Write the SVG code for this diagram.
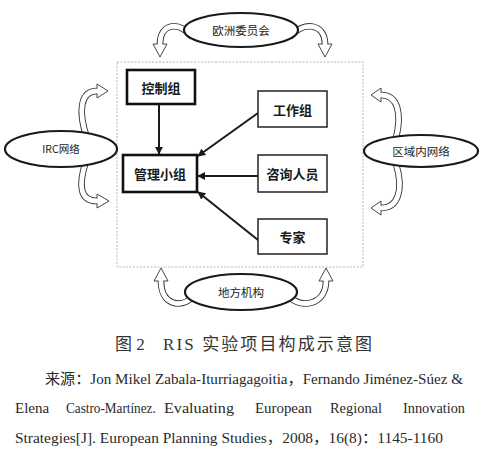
<svg xmlns="http://www.w3.org/2000/svg" width="483" height="471" viewBox="0 0 483 471">
<defs>
<style>
.bg{fill:#fff}
.frame{fill:none;stroke:#b5b5b5;stroke-width:1;stroke-dasharray:2 1.5}
.ell{fill:#fff;stroke:#1a1a1a;stroke-width:2.2}
.box{fill:#fff;stroke:#222;stroke-width:1.5}
.boxb{fill:#fff;stroke:#111;stroke-width:2.6}
.lbl{font-family:"Noto Sans CJK SC","Noto Sans",sans-serif;font-size:11.5px;fill:#222;text-anchor:middle;dominant-baseline:central}
.blbl{font-family:"Noto Sans CJK SC","Noto Sans",sans-serif;font-size:13px;font-weight:bold;fill:#1a1a1a;text-anchor:middle;dominant-baseline:central}
.con{fill:none;stroke:#1a1a1a;stroke-width:2}
.bo{fill:none;stroke:#333;stroke-width:6.6}
.bi{fill:none;stroke:#fff;stroke-width:4.8}
.hd{fill:#fff;stroke:#333;stroke-width:0.9;stroke-linejoin:miter}
.cap{font-family:"Liberation Serif","Noto Sans CJK SC",serif;font-size:17px;fill:#333}
.src{font-family:"Liberation Serif","Noto Sans CJK SC",serif;font-size:15px;fill:#2a2a2a}
</style>
<marker id="ah" viewBox="0 0 10 10" refX="9" refY="5" markerWidth="4" markerHeight="4" orient="auto" markerUnits="strokeWidth">
<path d="M0,0 L10,5 L0,10 z" fill="#1a1a1a"/>
</marker>
</defs>
<rect class="bg" x="0" y="0" width="483" height="471"/>
<rect class="frame" x="117" y="62" width="246" height="205"/>

<g id="curved-arrows">
<path class="bo" d="M192,37 C178,20 160,24 160,44"/><path class="bi" d="M192,37 C178,20 160,24 160,44"/>
<path class="hd" d="M157.6,44 L153,44 L160,57 L167,44 L162.4,44"/>
<path class="bo" d="M290,37 C304,20 325,24 325,44"/><path class="bi" d="M290,37 C304,20 325,24 325,44"/>
<path class="hd" d="M322.6,44 L318,44 L325,57 L332,44 L327.4,44"/>
<path class="bo" d="M194,296 C180,310 161,304 161,281"/><path class="bi" d="M194,296 C180,310 161,304 161,281"/>
<path class="hd" d="M158.6,281 L154,281 L161,268 L168,281 L163.4,281"/>
<path class="bo" d="M288,296 C302,310 326,304 326,281"/><path class="bi" d="M288,296 C302,310 326,304 326,281"/>
<path class="hd" d="M323.6,281 L319,281 L326,268 L333,281 L328.4,281"/>
<path class="bo" d="M87,138 C78,112 80,91 97,91"/><path class="bi" d="M87,138 C78,112 80,91 97,91"/>
<path class="hd" d="M97,88.6 L97,84 L108,91 L97,98 L97,93.4"/>
<path class="bo" d="M86,161 C78,186 80,201 97,201"/><path class="bi" d="M86,161 C78,186 80,201 97,201"/>
<path class="hd" d="M97,198.6 L97,194 L109,201 L97,208 L97,203.4"/>
<path class="bo" d="M396,138 C402,114 398,95 381,95"/><path class="bi" d="M396,138 C402,114 398,95 381,95"/>
<path class="hd" d="M381,92.6 L381,88 L371,95 L381,102 L381,97.4"/>
<path class="bo" d="M396,164 C404,190 398,208 381,208"/><path class="bi" d="M396,164 C404,190 398,208 381,208"/>
<path class="hd" d="M381,205.6 L381,201 L371,208 L381,215 L381,210.4"/>
</g>

<g id="connectors">
<path class="con" d="M159,104 L159,154" marker-end="url(#ah)"/>
<path class="con" d="M258,113 L198,156" marker-end="url(#ah)"/>
<path class="con" d="M258,176 L198,176" marker-end="url(#ah)"/>
<path class="con" d="M258,240 L198,192" marker-end="url(#ah)"/>
</g>

<g id="ouzhou"><ellipse class="ell" cx="241" cy="30" rx="57" ry="17"/><text class="lbl" x="241" y="30">欧洲委员会</text></g>
<g id="irc"><ellipse class="ell" cx="61" cy="149" rx="56" ry="18"/><text class="lbl" x="61" y="148" style="font-size:10.5px">IRC网络</text></g>
<g id="quyu"><ellipse class="ell" cx="421" cy="151" rx="57" ry="16"/><text class="lbl" x="421" y="151">区域内网络</text></g>
<g id="difang"><ellipse class="ell" cx="241" cy="292" rx="56" ry="18"/><text class="lbl" x="241" y="292">地方机构</text></g>

<g id="kongzhi"><rect class="boxb" x="127" y="70" width="68" height="34"/><text class="blbl" x="161" y="87">控制组</text></g>
<g id="gongzuo"><rect class="box" x="258" y="91" width="69" height="36"/><text class="blbl" x="292.5" y="109">工作组</text></g>
<g id="guanli"><rect class="boxb" x="123" y="155" width="74" height="37"/><text class="blbl" x="160" y="173.5">管理小组</text></g>
<g id="zixun"><rect class="box" x="258" y="155" width="69" height="37"/><text class="blbl" x="292.5" y="173.5">咨询人员</text></g>
<g id="zhuanjia"><rect class="box" x="258" y="219" width="69" height="35"/><text class="blbl" x="292.5" y="236.5">专家</text></g>

<g id="caption">
<text class="cap" x="115" y="350">图 2</text>
<text class="cap" x="163" y="350" textLength="209" lengthAdjust="spacing">RIS 实验项目构成示意图</text>
</g>
<g id="source">
<text class="src" x="45" y="384" textLength="418" lengthAdjust="spacingAndGlyphs">来源：Jon Mikel Zabala-Iturriagagoitia，Fernando Jiménez-Súez &amp;</text>
<text class="src" x="15" y="413">Elena</text>
<text class="src" transform="translate(66,413) scale(0.88,1)" x="0" y="0">Castro-Martínez.</text>
<text class="src" x="164" y="413" textLength="70" lengthAdjust="spacingAndGlyphs">Evaluating</text>
<text class="src" x="255" y="413" textLength="57" lengthAdjust="spacingAndGlyphs">European</text>
<text class="src" x="330" y="413" textLength="52" lengthAdjust="spacingAndGlyphs">Regional</text>
<text class="src" x="403" y="413" textLength="62" lengthAdjust="spacingAndGlyphs">Innovation</text>
<text class="src" x="15" y="443" textLength="428" lengthAdjust="spacingAndGlyphs">Strategies[J]. European Planning Studies，2008，16(8)：1145-1160</text>
</g>
</svg>
